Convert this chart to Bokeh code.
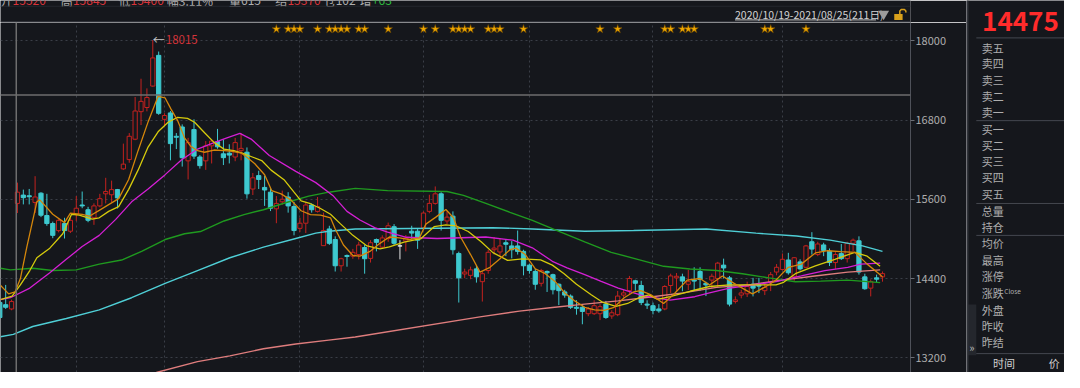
from bokeh.plotting import figure
from bokeh.layouts import row, column
from bokeh.models import Range1d, FixedTicker, Span, Label
from bokeh.core.properties import value
from bokeh.embed import file_html
from bokeh.resources import INLINE

# ---------------- data ----------------
open_ = [14038,14004,13940,15539,15665,15655,15553,15694,15356,15234,
         15127,15234,15118,15370,15515,15443,15321,15501,15684,15670,
         15748,16062,16203,16512,16929,16992,17317,17782,16813,16910,
         16556,16697,16184,16658,16242,16184,16411,16474,16290,16300,
         16242,16338,16315,15757,15960,15781,15709,15457,15563,15636,
         15491,15161,15239,15515,15418,14899,15152,14992,14594,14750,
         14740,14764,14871,14706,14992,14876,15007,15186,14895,14968,
         15118,15118,15167,15418,15539,15684,15273,15346,14779,14470,
         14449,14547,14353,14522,14837,14803,14943,14895,14895,14812,
         14604,14508,14329,14508,14459,14314,14198,14135,13965,13965,
         13868,13868,13868,14013,13834,13853,14150,14217,14367,14295,
         14013,13989,13940,13940,14295,14411,14426,14314,14377,14508,
         14329,14377,14401,14604,14411,14052,14150,14169,14314,14304,
         14217,14343,14499,14537,14682,14426,14653,14571,14958,14764,
         14910,14813,14643,14778,14702,14934,14972,14426,14255,14411,
         14426]
high = [14060,14304,14080,15854,15748,15758,15951,15709,15684,15263,
        15300,15321,15321,15650,15719,15487,15540,15684,15927,15884,
        15758,16445,16605,17151,17428,17282,18015,17840,16905,16940,
        16605,16736,16532,16813,16271,16483,16507,16668,16508,16435,
        16532,16605,16387,16000,16034,15960,15781,15650,15733,15709,
        15563,15321,15563,15540,15636,15400,15200,15040,14716,14765,
        14850,14958,14910,14982,15007,15055,15249,15225,14982,15060,
        15200,15152,15418,15670,15796,15709,15418,15418,14808,14550,
        14581,14596,14508,14837,15030,15000,14987,14968,15128,14837,
        14628,14547,14547,14522,14474,14329,14230,14160,14072,13998,
        13968,14072,14013,14062,13920,14213,14230,14440,14382,14367,
        14072,14037,14013,14300,14474,14484,14474,14532,14571,14571,
        14353,14474,14653,14702,14440,14130,14231,14353,14411,14411,
        14324,14500,14620,14780,14790,14726,14692,14910,15103,14958,
        14943,14856,14800,14924,14958,15007,15040,14474,14387,14460,
        14508]
low = [13790,13940,13920,15393,15524,15524,15393,15331,15200,15012,
       15100,15007,15090,15273,15466,15254,15214,15480,15539,15554,
       15462,16047,16155,16497,16726,16934,17307,16881,16726,16192,
       16362,16097,15902,16213,16066,16047,16144,16367,16120,16145,
       16178,16192,15611,15666,15757,15501,15423,15239,15520,15399,
       15055,15104,15090,15399,15400,14899,14910,14507,14507,14580,
       14700,14690,14474,14643,14812,14858,14958,14910,14691,14812,
       15000,14850,15133,15390,15520,15128,15225,14764,14037,14406,
       14390,14339,14052,14474,14764,14735,14740,14706,14764,14449,
       14474,14231,14280,14197,14160,13998,14110,13940,13853,13708,
       13830,13848,13771,13790,13790,13830,14115,14160,14217,13998,
       13940,13858,13882,13920,14183,14216,14208,14226,14216,14216,
       14135,14255,14265,14401,13979,14023,14101,14120,14130,14180,
       14150,14210,14450,14522,14460,14367,14522,14556,14764,14740,
       14740,14590,14546,14682,14643,14813,14460,14231,14130,14343,
       14353]
close = [13810,13965,14052,15709,15626,15640,15636,15360,15234,15055,
         15283,15127,15283,15466,15501,15283,15501,15611,15719,15748,
         15622,16134,16556,16939,17085,17143,17743,16904,16871,16445,
         16541,16232,16460,16256,16111,16411,16483,16396,16232,16271,
         16460,16373,15684,15927,15902,15742,15466,15539,15602,15501,
         15128,15239,15515,15443,15491,15128,14934,14594,14701,14735,
         14798,14909,14701,14943,14949,15016,15200,14934,14895,15016,
         15089,14982,15393,15539,15684,15283,15331,14837,14411,14499,
         14532,14426,14474,14798,14862,14895,14920,14837,14812,14594,
         14522,14314,14522,14488,14231,14217,14150,13965,13950,13902,
         13940,13989,13975,13810,13882,14135,14183,14401,14329,14037,
         13998,13917,13911,14280,14440,14435,14362,14353,14362,14387,
         14304,14435,14634,14561,14013,14077,14183,14280,14255,14285,
         14266,14459,14571,14692,14488,14716,14547,14895,14847,14924,
         14827,14643,14764,14702,14934,14982,14499,14246,14353,14391,
         14475]

# moving-average lines, vertices (day index, price)
ma5_x = [0.1,1.5,2.6,3.5,4.6,6.3,6.8,9.0,11.0,12.0,14.0,15.2,16.9,18.5,20.2,21.9,23.5,25.2,26.9,28.1,
         29.1,30.2,31.4,32.4,33.6,34.8,36.4,38.1,39.5,41.1,42.3,43.3,45.0,46.2,47.8,49.5,51.2,52.8,54.5,56.2,
         57.0,58.4,60.0,61.2,62.9,64.6,66.2,67.9,69.6,71.3,72.4,74.1,75.8,77.1,78.3,80.0,81.6,83.3,85.0,86.7,
         87.7,89.3,91.0,92.7,94.4,96.0,97.7,99.4,101.1,102.7,104.4,106.1,107.7,108.9,110.6,112.8,114.5,116.8,119.0,120.6,
         122.8,125.2,127.9,130.2,131.9,134.0,136.2,138.6,140.7,142.9,145.3,147.4,149.4,150.0]
ma5 = [14299,14168,14197,14401,14880,15563,15592,15374,15248,15393,15374,15345,15433,15520,15611,15902,16338,16774,17162,17137,
       16968,16798,16532,16410,16338,16314,16348,16338,16329,16300,16217,16144,15974,15733,15684,15588,15428,15370,15360,15321,
       15152,14909,14750,14739,14812,14934,15030,15016,14992,15016,15225,15331,15447,15321,15030,14764,14498,14571,14702,14837,
       14861,14764,14546,14474,14353,14183,14062,13965,13926,13917,13965,14110,14197,14216,14158,14023,14158,14376,14401,14304,
       14440,14304,14168,14280,14376,14571,14619,14789,14822,14808,14798,14619,14474,14426]
ma10_x = [0.1,2.1,3.5,5.1,6.3,8.5,10.7,12.2,13.5,15.7,16.9,18.5,20.2,21.9,23.5,25.2,26.9,28.6,30.2,31.9,
          33.1,34.8,36.4,38.1,40.0,41.1,42.8,44.5,46.1,48.3,50.0,51.2,52.8,54.5,56.2,57.9,60.0,62.4,64.6,66.2,
          68.7,71.6,73.8,75.8,77.5,79.6,81.8,83.8,86.3,88.8,91.9,93.9,95.9,98.0,100.5,102.5,104.7,106.7,108.6,110.3,
          111.8,113.9,117.3,120.6,124.0,127.3,131.9,133.2,135.2,138.6,141.9,145.3,147.4,149.6]
ma10 = [14081,14135,14304,14522,14716,14861,15079,15375,15360,15302,15321,15418,15491,15752,16043,16392,16624,16769,16842,16827,
        16769,16609,16464,16362,16333,16304,16246,16188,16043,15898,15709,15578,15534,15462,15375,15229,15055,14895,14851,14880,
        14953,15007,15186,15215,15200,15113,14957,14793,14676,14699,14684,14604,14474,14314,14154,14038,13980,14023,14110,14154,
        14086,14125,14208,14280,14304,14304,14304,14343,14474,14594,14692,14798,14740,14586]
ma20_x = [0.1,1.8,5.1,8.5,11.3,14.0,16.9,19.7,22.4,25.2,28.1,30.8,33.6,36.4,38.6,40.8,42.8,45.8,50.3,53.7,
          56.7,59.0,61.2,63.7,65.9,69.1,74.3,82.6,87.2,90.5,93.9,96.4,99.4,102.2,105.1,109.4,113.9,118.1,120.6,124.0,
          127.3,131.9,136.2,140.2,144.1,146.3,149.6]
ma20 = [14081,14110,14256,14488,14692,14885,15055,15297,15563,15757,15975,16192,16363,16460,16533,16599,16508,16265,16024,15854,
        15650,15418,15287,15171,15103,15026,15007,15030,14982,14866,14662,14561,14459,14357,14256,14139,14074,14125,14183,14256,
        14295,14353,14440,14522,14571,14619,14633]
ma60_x = [0.1,1.8,5.6,9.0,13.0,16.9,20.7,24.1,28.1,31.4,34.1,38.1,41.5,44.8,48.7,52.5,55.9,60.4,65.9,76.0,
          78.8,82.6,86.7,90.5,94.4,99.4,103.9,108.4,112.8,117.3,121.8,126.2,130.7,135.2,139.5,144.1,149.6]
ma60 = [14556,14532,14556,14522,14532,14619,14681,14812,14992,15079,15113,15273,15370,15443,15553,15650,15709,15767,15733,15719,
        15661,15539,15404,15283,15138,14957,14798,14692,14586,14546,14522,14474,14411,14353,14362,14377,14338]
ma120_x = [0.1,2.3,5.6,11.3,16.9,22.4,28.1,33.6,39.1,44.8,50.3,53.7,55.9,60.4,83.8,90.5,99.4,107.7,120.1,128.5,
           135.4,141.1,146.6,150.0]
ma120 = [13519,13554,13674,13795,13926,14110,14328,14522,14716,14876,15007,15088,15117,15152,15171,15152,15117,15128,15152,15088,
         15045,14982,14895,14812]
ma250_x = [26.6,33.6,39.1,44.8,50.3,55.9,60.4,81.6,88.3,93.9,99.4,105.1,110.6,116.1,121.8,127.3,132.9,138.5,144.1,149.6]
ma250 = [12977,13141,13228,13336,13408,13467,13515,13820,13907,13961,14013,14062,14120,14183,14266,14304,14376,14440,14498,14532]

month_starts = [13, 28, 51, 72, 90, 111, 133]
price_ticks = [13200, 14400, 15600, 16800, 18000]
star_days = [47,49,50,51,54,56,57,58,59,61,62,66,72,74,77,78,79,80,83,84,85,89,
             102,105,113,114,116,117,118,130,131,137]
cross_day = 2.8
cross_price = 17182
last_price = "14475"
date_range_text = "2020/10/19-2021/08/25(211日)"
header_labels = ["开", "高", "低", "幅", "量", "结", "仓", "增"]
header_values = ["15520", "15845", "15400", "3.11%", "615", "15370", "102", "+63"]
sell_labels = ["卖五", "卖四", "卖三", "卖二", "卖一"]
buy_labels = ["买一", "买二", "买三", "买四", "买五"]
stat_labels = ["总量", "持仓"]
info_labels = ["均价", "最高", "涨停", "涨跌", "外盘", "昨收", "昨结"]
table_headers = ["时间", "价"]

# ---------------- style ----------------
BG = "#15171c"
RED = "#c3221f"
CYAN = "#3ec9cf"
DOJI = "#e8e8e8"
GRID = "#3a3e47"
TXT = "#aeaeae"
FONT = "Noto Sans CJK SC"
W_LEFT, H_HEAD, H_MAIN, W_PANEL = 966, 22, 350, 98
H_TOTAL = H_HEAD + H_MAIN

# ---------------- main candle chart ----------------
p = figure(width=W_LEFT, height=H_MAIN,
           x_range=Range1d(0.12, 154.76), y_range=Range1d(12977, 18280),
           x_axis_location=None, y_axis_location="right",
           output_backend="svg", toolbar_location=None,
           background_fill_color=BG, border_fill_color=BG, outline_line_color=None,
           min_border_left=0, min_border_top=0, min_border_bottom=0, min_border_right=56)

p.xgrid.ticker = FixedTicker(ticks=month_starts)
p.ygrid.ticker = FixedTicker(ticks=price_ticks)
p.grid.grid_line_color = GRID
p.grid.grid_line_dash = "2 3"
p.grid.grid_line_width = 1

ax = p.yaxis[0]
ax.ticker = FixedTicker(ticks=price_ticks)
ax.major_label_text_color = TXT
ax.major_label_text_font = FONT
ax.major_label_text_font_size = "11px"
ax.major_tick_out = 4
ax.major_tick_in = 0
ax.minor_tick_out = 0
ax.minor_tick_in = 0
ax.axis_line_color = "#4e5159"
ax.major_tick_line_color = "#6a6d75"
ax.major_label_standoff = 1

idx = list(range(len(close)))
col = [RED if c > o else (CYAN if c < o else DOJI) for o, c in zip(open_, close)]
fill = [BG if c > o else (CYAN if c < o else DOJI) for o, c in zip(open_, close)]
top = [max(o, c) for o, c in zip(open_, close)]
bot = [min(o, c) for o, c in zip(open_, close)]

p.segment(x0=idx, y0=high, x1=idx, y1=low, color=col, line_width=1)
p.vbar(x=idx, width=0.72, top=top, bottom=bot, fill_color=fill, line_color=col, line_width=1)

p.line(ma250_x, ma250, color="#df7d7d", line_width=1.4)
p.line(ma120_x, ma120, color="#4fcfd6", line_width=1.4)
p.line(ma60_x, ma60, color="#1f9a1f", line_width=1.4)
p.line(ma20_x, ma20, color="#d41fd4", line_width=1.3)
p.line(ma10_x, ma10, color="#d6cb0c", line_width=1.3)
p.line(ma5_x, ma5, color="#d4860b", line_width=1.3)

p.scatter(star_days, [18180] * len(star_days), marker="star", size=9,
          fill_color="#f0a800", line_color="#6b4600", line_width=0.6)

pk = max(idx, key=lambda k: high[k])
p.text(x=[pk], y=[high[pk]], text=["←"], text_color="#c4c4c4", text_font=value(FONT),
       text_font_size="12px", text_baseline="middle", text_align="left")
p.text(x=[pk], y=[high[pk]], text=[str(high[pk])], text_color="#d4343a", text_font=value(FONT),
       text_font_size="11.5px", text_baseline="middle", text_align="left", x_offset=13)

p.add_layout(Span(location=cross_day, dimension="height", line_color="#6e6e6e", line_width=1.5))
p.add_layout(Span(location=cross_price, dimension="width", line_color="#6e6e6e", line_width=1.5))
p.add_layout(Label(x=154.93, y=cross_price, text=str(cross_price), text_color="#ffffff",
                   text_font=FONT, text_font_size="11.5px", text_baseline="middle",
                   background_fill_color="#5b5c68",
                   padding=dict(left=3, right=16, top=2, bottom=2)))

# ---------------- header strip ----------------
h = figure(width=W_LEFT, height=H_HEAD, x_range=Range1d(0, 980), y_range=Range1d(23, 0),
           x_axis_location=None, y_axis_location=None,
           output_backend="svg", toolbar_location=None,
           background_fill_color=BG, border_fill_color=BG, outline_line_color=None, min_border=0)
h.grid.visible = False
lab_x = [0, 65, 127, 179, 246, 296, 348, 387]
val_col = ["#d9343a", "#d9343a", "#d9343a", TXT, TXT, "#d9343a", TXT, "#2fbf3f"]
# this quote row sits at the top edge of the window and is cut off, as in the source
h.text(x=lab_x, y=[0.5] * 8, text=header_labels, text_color=TXT, text_font=value(FONT),
       text_font_size="12px", text_baseline="middle")
h.text(x=[v + 13 for v in lab_x], y=[0.5] * 8, text=header_values, text_color=val_col,
       text_font=value(FONT), text_font_size="12px", text_baseline="middle")
h.segment(x0=[0, 0], y0=[6, 22.5], x1=[980, 980], y1=[6, 22.5],
          color=["#24272d", "#4b4e56"], line_width=1)
h.text(x=[791], y=[14.5], text=[date_range_text], text_color="#d2d2d2", text_font=value(FONT),
       text_font_size="10.5px", text_baseline="middle")
h.segment(x0=[791], y0=[20.3], x1=[943], y1=[20.3], color="#c8c8c8", line_width=1)
h.scatter([951], [14], marker="inverted_triangle", size=11, fill_color="#9c9c9c", line_color=None)
h.quad(left=[962.5], right=[971.5], top=[14], bottom=[20.5], fill_color="#d9a11c", line_color=None)
h.line([968.5, 968.5, 970, 973.5, 975, 975], [14, 11, 9.5, 9.5, 11, 12.5],
       color="#d9a11c", line_width=1.5)

# ---------------- right quote panel ----------------
r = figure(width=W_PANEL, height=H_TOTAL, x_range=Range1d(980, 1080), y_range=Range1d(388, 0),
           x_axis_location=None, y_axis_location=None,
           output_backend="svg", toolbar_location=None,
           background_fill_color=BG, border_fill_color=BG, outline_line_color=None, min_border=0)
r.grid.visible = False
r.quad(left=[980.5], right=[990], top=[317], bottom=[370], fill_color="#24272d", line_color=None)
r.segment(x0=[981], y0=[0], x1=[981], y1=[388], color="#30333a", line_width=2)
r.segment(x0=[990] * 5, y0=[39, 125.3, 211.7, 245, 368.3], x1=[1080] * 5,
          y1=[39, 125.3, 211.7, 245, 368.3], color="#44474f", line_width=1)
r.text(x=[1035], y=[22], text=[last_price], text_align="center", text_baseline="middle",
       text_font=value(FONT), text_font_size="26px", text_font_style="bold", text_color="#ff2b2b")
ys = [49.3, 65.7, 82.7, 99.3, 116.7, 134, 150.7, 167.3, 184, 201.5, 220, 236.7,
      253.3, 270.7, 287.7, 305, 322.3, 339.3, 356]
labels = sell_labels + buy_labels + stat_labels + info_labels
r.text(x=[995.5] * len(labels), y=ys, text=labels, text_color=TXT, text_font=value(FONT),
       text_font_size="11px", text_baseline="middle")
r.text(x=[1018.5], y=[303.5], text=["Close"], text_color=TXT, text_font=value(FONT),
       text_font_size="6.5px", text_baseline="middle")
r.text(x=[985.5], y=[361.5], text=["»"], text_color="#bdbdbd", text_font=value(FONT),
       text_font_size="11px", text_baseline="middle", text_align="center")
r.text(x=[1007, 1064], y=[378.5, 378.5], text=table_headers, text_color="#d0d0d0",
       text_font=value(FONT), text_font_size="11px", text_baseline="middle")

layout = row(column(h, p, spacing=0), r, spacing=0)
open("out.html", "w").write(file_html(layout, INLINE))
